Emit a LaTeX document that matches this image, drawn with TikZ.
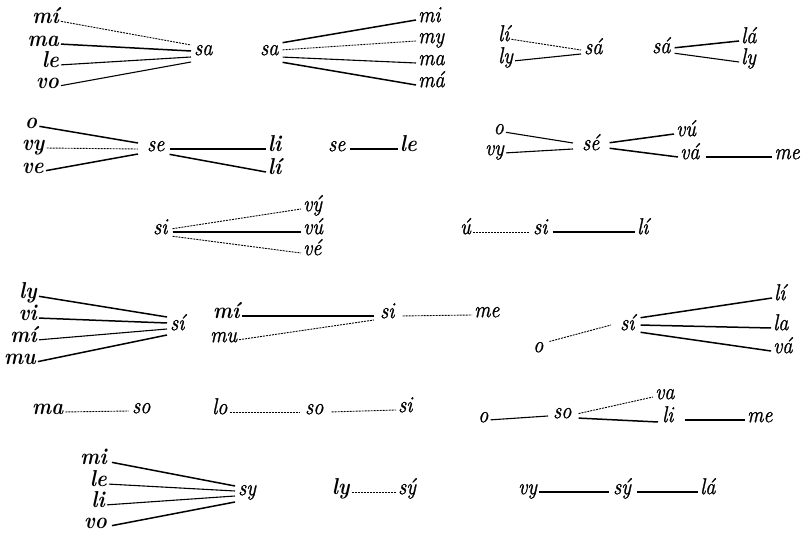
\documentclass[tikz,border=0pt]{standalone}
\usepackage{fontspec}
\usetikzlibrary{calc}
\newfontfamily\lmx{Latin Modern Roman}[FakeStretch=0.88, ItalicFeatures={FakeBold=1.0}]
\tikzset{
  bf/.style={font=\lmx\fontsize{23}{23}\selectfont\bfseries\itshape, inner sep=0pt},
  rg/.style={font=\lmx\fontsize{23}{23}\selectfont\itshape, inner sep=0pt},
  strong/.style={line width=1.5pt, shorten <=2pt},
  mid/.style={line width=1.1pt, shorten <=2pt},
  weak/.style={line width=0.9pt, dash pattern=on 2pt off 1pt, shorten <=2pt}
}
\begin{document}
\begin{tikzpicture}[x=1pt,y=-1pt]
\useasboundingbox (0,0) rectangle (801,534);
% ---------- Row 1 ----------
\node[bf,anchor=mid east] (a1) at (59,21) {mí};
\node[bf,anchor=mid east] (a2) at (59,44) {ma};
\node[bf,anchor=mid east] (a3) at (59,65) {le};
\node[bf,anchor=mid east] (a4) at (59,86) {vo};
\node[rg,anchor=mid west] (sa1) at (194,53) {sa};
\draw[weak]   (a1.mid east) -- ($(sa1.mid west)+(-3,-8)$);
\draw[strong] (a2.mid east) -- ($(sa1.mid west)+(-3,-2)$);
\draw[mid]    (a3.mid east) -- ($(sa1.mid west)+(-3,4)$);
\draw[mid]    (a4.mid east) -- ($(sa1.mid west)+(-3,9)$);

\node[rg,anchor=mid west] (sa2) at (260,53) {sa};
\node[rg,anchor=mid west] (b1) at (418,20) {mi};
\node[rg,anchor=mid west] (b2) at (418,41) {my};
\node[rg,anchor=mid west] (b3) at (418,63) {ma};
\node[rg,anchor=mid west] (b4) at (418,85) {má};
\draw[strong] ($(sa2.mid east)+(2,-10)$) -- ($(b1.mid west)+(-2,0)$);
\draw[weak]   ($(sa2.mid east)+(2,-3)$) -- ($(b2.mid west)+(-2,0)$);
\draw[mid]    ($(sa2.mid east)+(2,4)$) -- ($(b3.mid west)+(-2,0)$);
\draw[strong] ($(sa2.mid east)+(2,9)$) -- ($(b4.mid west)+(-2,0)$);

\node[rg,anchor=mid west] (c1) at (498,39) {lí};
\node[rg,anchor=mid west] (c2) at (498,61) {ly};
\node[rg,anchor=mid west] (sa3) at (584,52) {sá};
\draw[weak] (c1.mid east) -- ($(sa3.mid west)+(-3,-2)$);
\draw[mid]  (c2.mid east) -- ($(sa3.mid west)+(-3,2)$);

\node[rg,anchor=mid west] (sa4) at (652,51) {sá};
\node[rg,anchor=mid west] (d1) at (741,41) {lá};
\node[rg,anchor=mid west] (d2) at (741,62) {ly};
\draw[strong] ($(sa4.mid east)+(2,-3)$) -- ($(d1.mid west)+(-2,0)$);
\draw[mid]    ($(sa4.mid east)+(2,2)$) -- ($(d2.mid west)+(-2,0)$);

% ---------- Row 2 ----------
\node[bf,anchor=mid west] (e1) at (25,126) {o};
\node[bf,anchor=mid west] (e2) at (22,148) {vy};
\node[bf,anchor=mid west] (e3) at (22,171) {ve};
\node[rg,anchor=mid west] (se1) at (147,149) {se};
\draw[strong] (e1.mid east) -- ($(se1.mid west)+(-9,-6)$);
\draw[weak]   (e2.mid east) -- ($(se1.mid west)+(-9,0)$);
\draw[strong] (e3.mid east) -- ($(se1.mid west)+(-9,5)$);
\node[bf,anchor=mid west] (f1) at (268,149) {li};
\node[bf,anchor=mid west] (f2) at (268,172) {lí};
\draw[strong] ($(se1.mid east)+(3,0)$) -- ($(f1.mid west)+(-2,0)$);
\draw[strong] ($(se1.mid east)+(3,5)$) -- ($(f2.mid west)+(-2,0)$);

\node[rg,anchor=mid west] (se2) at (328,149) {se};
\node[bf,anchor=mid west] (g1) at (400,149) {le};
\draw[mid] ($(se2.mid east)+(2,0)$) -- ($(g1.mid west)+(-2,0)$);

\node[rg,anchor=mid east] (h1) at (504,132) {o};
\node[rg,anchor=mid east] (h2) at (504,153) {vy};
\node[rg,anchor=mid west] (se3) at (582,148) {sé};
\node[rg,anchor=mid west] (h3) at (676,134) {vú};
\node[rg,anchor=mid west] (h4) at (680,157) {vá};
\node[rg,anchor=mid east] (h5) at (800,157) {me};
\draw[mid] (h1.mid east) -- ($(se3.mid west)+(-9,-5)$);
\draw[mid] (h2.mid east) -- ($(se3.mid west)+(-9,1)$);
\draw[strong] ($(se3.mid east)+(8,-5)$) -- ($(h3.mid west)+(-2,0)$);
\draw[strong] ($(se3.mid east)+(8,0)$) -- ($(h4.mid west)+(-2,0)$);
\draw[mid] ($(h4.mid east)+(4,0)$) -- ($(h5.mid west)+(-2,0)$);

% ---------- Row 3 ----------
\node[rg,anchor=mid west] (si1) at (153,232) {si};
\node[rg,anchor=mid west] (i1) at (303,209) {vý};
\node[rg,anchor=mid west] (i2) at (303,232) {vú};
\node[rg,anchor=mid west] (i3) at (303,253) {vé};
\draw[weak]   ($(si1.mid east)+(3,-3)$) -- ($(i1.mid west)+(-2,0)$);
\draw[strong] ($(si1.mid east)+(3,0)$) -- ($(i2.mid west)+(-2,0)$);
\draw[weak]   ($(si1.mid east)+(3,4)$) -- ($(i3.mid west)+(-2,0)$);

\node[rg,anchor=mid west] (j1) at (460,232) {ú};
\node[rg,anchor=mid west] (si2) at (533,232) {si};
\node[rg,anchor=mid west] (j2) at (637,232) {lí};
\draw[weak]   (j1.mid east) -- ($(si2.mid west)+(-3,0)$);
\draw[strong] ($(si2.mid east)+(3,0)$) -- ($(j2.mid west)+(-2,0)$);

% ---------- Row 4 ----------
\node[bf,anchor=mid east] (k1) at (37,296) {ly};
\node[bf,anchor=mid east] (k2) at (37,318) {vi};
\node[bf,anchor=mid east] (k3) at (37,340) {mí};
\node[bf,anchor=mid east] (k4) at (36,362) {mu};
\node[rg,anchor=mid west] (si3) at (170,328) {sí};
\draw[strong] (k1.mid east) -- ($(si3.mid west)+(-3,-11)$);
\draw[strong] (k2.mid east) -- ($(si3.mid west)+(-3,-5)$);
\draw[mid]    (k3.mid east) -- ($(si3.mid west)+(-3,1)$);
\draw[strong] (k4.mid east) -- ($(si3.mid west)+(-3,7)$);

\node[bf,anchor=mid west] (l1) at (213,316) {mí};
\node[rg,anchor=mid west] (l2) at (210,340) {mu};
\node[rg,anchor=mid west] (si4) at (380,316) {si};
\node[rg,anchor=mid west] (l3) at (474,315) {me};
\draw[strong] (l1.mid east) -- ($(si4.mid west)+(-6,0)$);
\draw[weak]   (l2.mid east) -- ($(si4.mid west)+(-6,4)$);
\draw[weak]   ($(si4.mid east)+(6,0)$) -- ($(l3.mid west)+(-2,0)$);

\node[rg,anchor=mid west] (m1) at (533,350) {o};
\node[rg,anchor=mid west] (si5) at (620,328) {sí};
\node[rg,anchor=mid west] (m2) at (774,298) {lí};
\node[rg,anchor=mid west] (m3) at (773,328) {la};
\node[rg,anchor=mid west] (m4) at (773,351) {vá};
\draw[weak] ($(m1.mid east)+(4,-8)$) -- ($(si5.mid west)+(-9,-3)$);
\draw[strong] ($(si5.mid east)+(4,-10)$) -- ($(m2.mid west)+(-2,0)$);
\draw[strong] ($(si5.mid east)+(4,-3)$) -- ($(m3.mid west)+(-2,0)$);
\draw[strong] ($(si5.mid east)+(4,4)$) -- ($(m4.mid west)+(-2,0)$);

% ---------- Row 5 ----------
\node[bf,anchor=mid west] (n1) at (32,412) {ma};
\node[rg,anchor=mid west] (so1) at (132,411) {so};
\draw[weak] (n1.mid east) -- ($(so1.mid west)+(-3,0)$);
\node[rg,anchor=mid west] (n2) at (212,412) {lo};
\node[rg,anchor=mid west] (so2) at (305,412) {so};
\node[rg,anchor=mid west] (n3) at (398,410) {si};
\draw[weak] (n2.mid east) -- ($(so2.mid west)+(-6,0)$);
\draw[weak] ($(so2.mid east)+(6,0)$) -- ($(n3.mid west)+(-2,0)$);

\node[rg,anchor=mid west] (o1) at (478,420) {o};
\node[rg,anchor=mid west] (so3) at (553,416) {so};
\node[rg,anchor=mid west] (o2) at (655,397) {va};
\node[rg,anchor=mid west] (o3) at (662,420) {li};
\node[rg,anchor=mid west] (o4) at (747,420) {me};
\draw[mid] (o1.mid east) -- ($(so3.mid west)+(-5,0)$);
\draw[weak] ($(so3.mid east)+(5,-2)$) -- ($(o2.mid west)+(-2,0)$);
\draw[strong] ($(so3.mid east)+(5,2)$) -- ($(o3.mid west)+(-4,2)$);
\draw[mid] ($(o3.mid east)+(9,0)$) -- ($(o4.mid west)+(-2,0)$);

% ---------- Row 6 ----------
\node[bf,anchor=mid east] (p1) at (107,462) {mi};
\node[bf,anchor=mid east] (p2) at (107,484) {le};
\node[bf,anchor=mid east] (p3) at (105,505) {li};
\node[bf,anchor=mid east] (p4) at (107,526) {vo};
\node[rg,anchor=mid west] (sy1) at (238,493) {sy};
\draw[strong] ($(p1.mid east)+(3,0)$) -- ($(sy1.mid west)+(-3,-7)$);
\draw[mid]    (p2.mid east) -- ($(sy1.mid west)+(-3,-2)$);
\draw[mid]    (p3.mid east) -- ($(sy1.mid west)+(-3,3)$);
\draw[strong] ($(p4.mid east)+(3,0)$) -- ($(sy1.mid west)+(-3,9)$);

\node[bf,anchor=mid west] (q1) at (332,492) {ly};
\node[rg,anchor=mid west] (sy2) at (398,492) {sý};
\draw[weak] (q1.mid east) -- ($(sy2.mid west)+(-2,0)$);

\node[rg,anchor=mid west] (r1) at (518,492) {vy};
\node[rg,anchor=mid west] (sy3) at (613,492) {sý};
\node[rg,anchor=mid west] (r2) at (700,492) {lá};
\draw[mid] (r1.mid east) -- ($(sy3.mid west)+(-4,0)$);
\draw[strong] ($(sy3.mid east)+(4,0)$) -- ($(r2.mid west)+(-2,0)$);
\end{tikzpicture}
\end{document}
